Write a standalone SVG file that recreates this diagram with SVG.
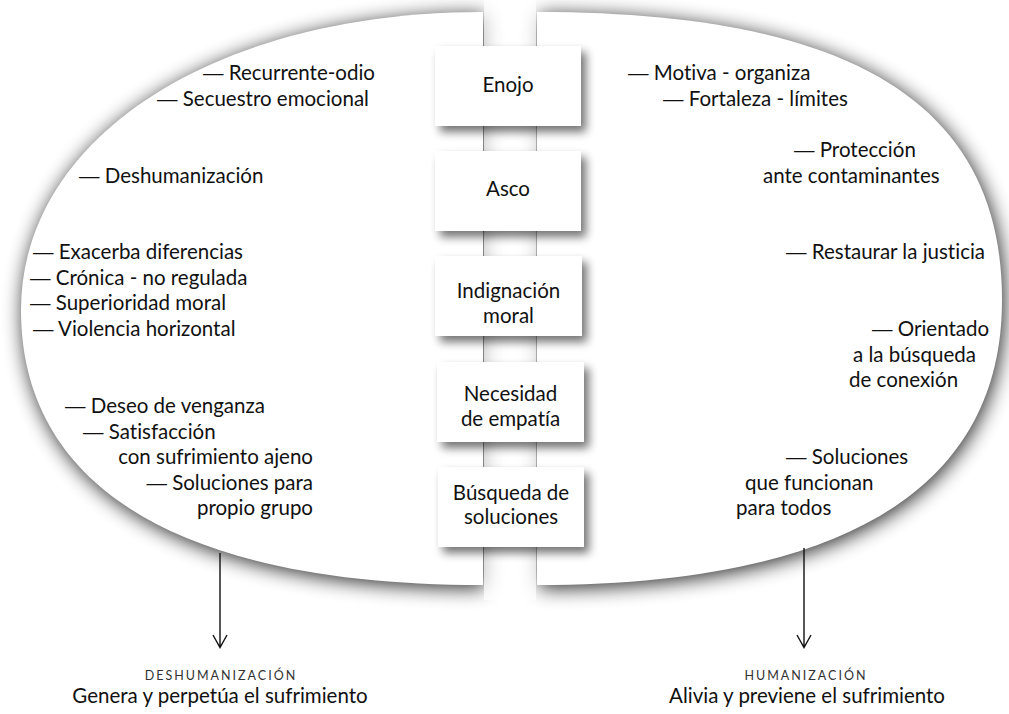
<svg xmlns="http://www.w3.org/2000/svg" width="1009" height="714" viewBox="0 0 1009 714">
<defs>
<filter id="glow" x="-10%" y="-10%" width="120%" height="120%">
<feGaussianBlur in="SourceAlpha" stdDeviation="10"/>
<feOffset dx="2" dy="3"/>
<feComponentTransfer><feFuncA type="linear" slope="0.85"/></feComponentTransfer>
</filter>
<filter id="bsh" x="-20%" y="-20%" width="150%" height="160%">
<feGaussianBlur in="SourceAlpha" stdDeviation="5"/>
<feOffset dx="5" dy="6"/>
<feComponentTransfer><feFuncA type="linear" slope="0.55"/></feComponentTransfer>
<feMerge><feMergeNode/><feMergeNode in="SourceGraphic"/></feMerge>
</filter>
<linearGradient id="stripfade" x1="0" y1="0" x2="0" y2="1">
<stop offset="0" stop-color="#fff" stop-opacity="0.75"/>
<stop offset="1" stop-color="#fff" stop-opacity="0.75"/>
</linearGradient>
<path id="lh" d="M483,12 C215,12 21,137 21,310 C21,489 183,585 483,585 Z"/>
<path id="rh" d="M537,12 C853,12 1002,104 1002,300 C1002,488 844,585 537,585 Z"/>
</defs>
<style>
text{font-family:Lato,"Open Sans","Liberation Sans",sans-serif;fill:#111;font-size:20.5px;font-variant-ligatures:none}
.d{font-family:"Liberation Sans",sans-serif}
.c{text-anchor:middle}
.e{text-anchor:end}
.sc{font-size:12.5px;letter-spacing:2px;fill:#333}
.box{fill:#fff}
.half{fill:#fff}
.arr{stroke:#111;stroke-width:1.4;fill:none}
</style>
<rect width="1009" height="714" fill="#fff"/>
<g id="halves-shadow" filter="url(#glow)">
<use href="#lh"/>
<use href="#rh"/>
</g>
<rect x="484" y="0" width="52" height="600" fill="#fff" opacity="0.7"/>
<g id="halves">
<use id="left-half" class="half" href="#lh"/>
<use id="right-half" class="half" href="#rh"/>
</g>
<g id="connectors">
<path class="arr" d="M220,553 V647 M213,635 L220,647.5 L227,635"/>
<path class="arr" d="M804,548 V647 M797,635 L804,647.5 L811,635"/>
</g>
<g id="node-enojo"><rect class="box" x="435" y="46" width="146" height="80" filter="url(#bsh)"/><text class="c" x="508" y="92">Enojo</text></g>
<g id="node-asco"><rect class="box" x="435" y="151" width="146" height="80" filter="url(#bsh)"/><text class="c" x="508" y="196">Asco</text></g>
<g id="node-indignacion"><rect class="box" x="435" y="256" width="147" height="80" filter="url(#bsh)"/><text class="c" x="508.5" y="298">Indignación</text><text class="c" x="508.5" y="323">moral</text></g>
<g id="node-necesidad"><rect class="box" x="437" y="362" width="147" height="80" filter="url(#bsh)"/><text class="c" x="510.5" y="401">Necesidad</text><text class="c" x="510.5" y="426">de empatía</text></g>
<g id="node-busqueda"><rect class="box" x="438" y="467" width="146" height="80" filter="url(#bsh)"/><text class="c" x="511" y="500">Búsqueda de</text><text class="c" x="511" y="524">soluciones</text></g>
<g id="left-labels">
<text x="203" y="80"><tspan class="d">—</tspan> Recurrente-odio</text>
<text x="157" y="106"><tspan class="d">—</tspan> Secuestro emocional</text>
<text x="79" y="183"><tspan class="d">—</tspan> Deshumanización</text>
<text x="33" y="259"><tspan class="d">—</tspan> Exacerba diferencias</text>
<text x="30" y="284.5"><tspan class="d">—</tspan> Crónica - no regulada</text>
<text x="30" y="310"><tspan class="d">—</tspan> Superioridad moral</text>
<text x="33" y="335.5"><tspan class="d">—</tspan> Violencia horizontal</text>
<text x="65" y="413"><tspan class="d">—</tspan> Deseo de venganza</text>
<text x="83" y="439"><tspan class="d">—</tspan> Satisfacción</text>
<text class="e" x="313" y="464">con sufrimiento ajeno</text>
<text class="e" x="313" y="490"><tspan class="d">—</tspan> Soluciones para</text>
<text class="e" x="313" y="515">propio grupo</text>
</g>
<g id="right-labels">
<text x="628" y="80"><tspan class="d">—</tspan> Motiva - organiza</text>
<text x="663" y="106"><tspan class="d">—</tspan> Fortaleza - límites</text>
<text x="794" y="157"><tspan class="d">—</tspan> Protección</text>
<text x="763" y="183">ante contaminantes</text>
<text x="786" y="259"><tspan class="d">—</tspan> Restaurar la justicia</text>
<text x="872" y="336"><tspan class="d">—</tspan> Orientado</text>
<text x="853" y="361.5">a la búsqueda</text>
<text x="849" y="387">de conexión</text>
<text x="786" y="464"><tspan class="d">—</tspan> Soluciones</text>
<text x="745" y="490">que funcionan</text>
<text x="736" y="515">para todos</text>
</g>
<g id="outcome-left">
<text class="c sc" x="221" y="680">DESHUMANIZACIÓN</text>
<text class="c" x="220" y="703">Genera y perpetúa el sufrimiento</text>
</g>
<g id="outcome-right">
<text class="c sc" x="806" y="680">HUMANIZACIÓN</text>
<text class="c" x="807" y="703">Alivia y previene el sufrimiento</text>
</g>
</svg>
